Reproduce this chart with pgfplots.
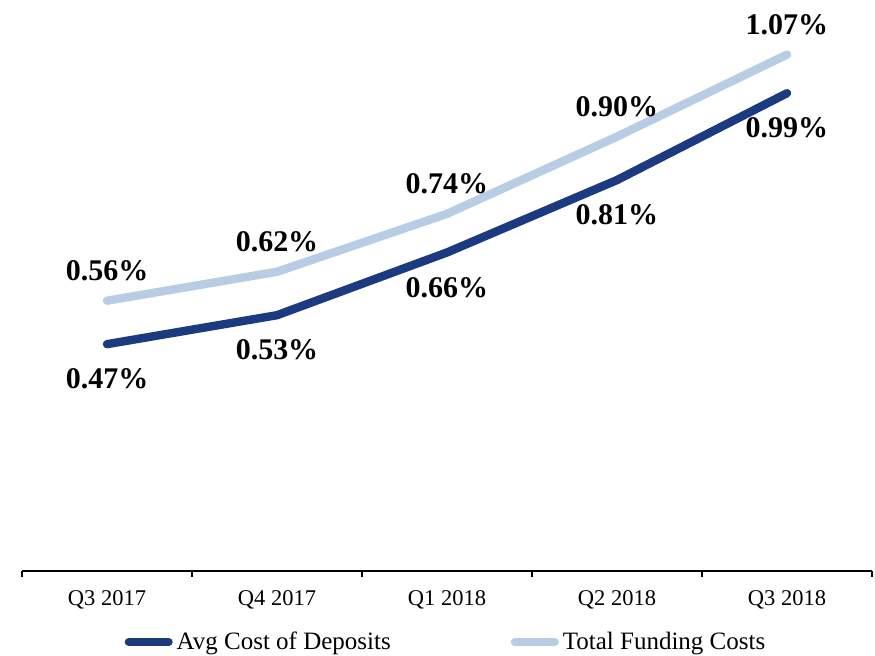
\documentclass[border=0pt]{standalone}
\usepackage{fontspec}
\setmainfont{Liberation Serif}
\usepackage{pgfplots}
\pgfplotsset{compat=1.18}
\definecolor{darkblue}{HTML}{1C3A80}
\definecolor{lightblue}{HTML}{B8CCE4}
\begin{document}
\begin{tikzpicture}
\path[use as bounding box] (0,0) rectangle (437.5pt,328pt);
\begin{axis}[
  at={(53.5pt,42.5pt)}, anchor=origin,
  scale only axis, width=425pt, height=277.5pt,
  xmin=-0.5, xmax=4.5, ymin=0, ymax=1.15,
  axis x line*=bottom, axis y line=none,
  xtick={0,1,2,3,4},
  xticklabels={Q3 2017,Q4 2017,Q1 2018,Q2 2018,Q3 2018},
  major x tick style={draw=none},
  minor xtick={-0.5,0.5,1.5,2.5,3.5,4.5},
  minor tick length=3pt,
  tick align=outside,
  x axis line style={line width=0.6pt,-},
  minor x tick style={line width=0.6pt, black},
  xticklabel style={font=\fontsize{11.25}{12}\selectfont, yshift=-2pt},
  clip=false,
  legend columns=2,
  legend style={at={(0.5,-0.128)}, anchor=center, draw=none, fill=none,
    font=\fontsize{12.5}{13}\selectfont, inner sep=0pt,
    /tikz/every even column/.append style={column sep=58pt}},
  legend image code/.code={\draw[#1,line cap=round,line width=4pt] (2pt,0pt) -- (22pt,0pt);},
  nodes near coords,
  point meta=explicit symbolic,
]
\addplot[darkblue, line width=4.2pt, line cap=round, line join=round,
  every node near coord/.style={anchor=center, yshift=-17.5pt, black, font=\fontsize{15}{16}\selectfont\bfseries}]
  table[meta=l] {
x y l
0 0.47 0.47\%
1 0.53 0.53\%
2 0.66 0.66\%
3 0.81 0.81\%
4 0.99 0.99\%
};
\addlegendentry{Avg Cost of Deposits}
\addplot[lightblue, line width=4.2pt, line cap=round, line join=round,
  every node near coord/.style={anchor=center, yshift=15pt, black, font=\fontsize{15}{16}\selectfont\bfseries}]
  table[meta=l] {
x y l
0 0.56 0.56\%
1 0.62 0.62\%
2 0.74 0.74\%
3 0.90 0.90\%
4 1.07 1.07\%
};
\addlegendentry{Total Funding Costs}
\end{axis}
\end{tikzpicture}
\end{document}
